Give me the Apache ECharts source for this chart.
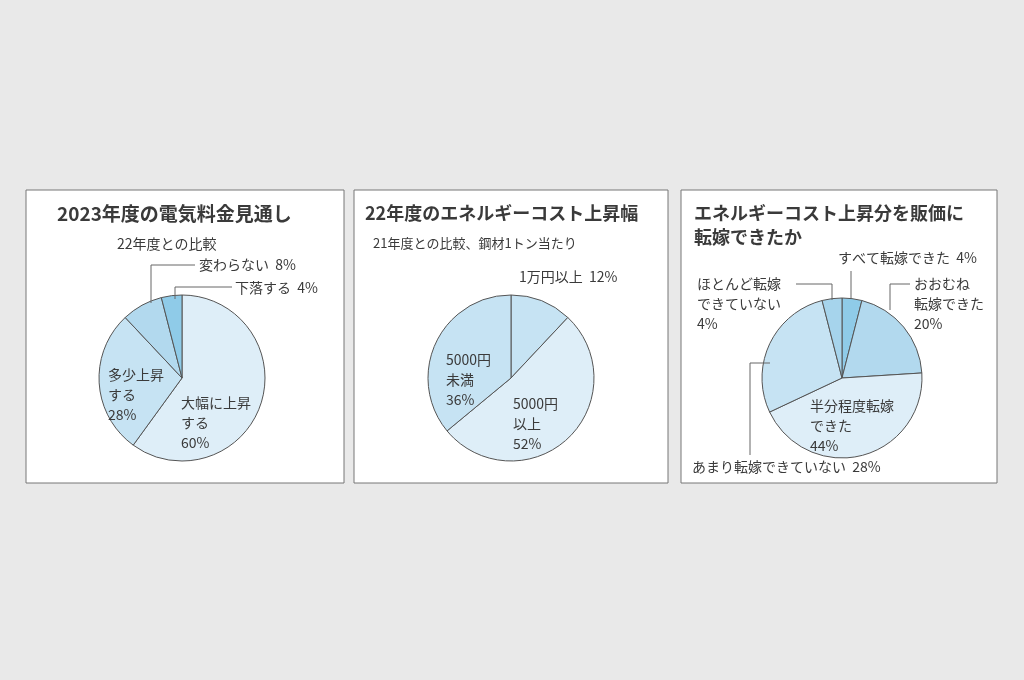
<!DOCTYPE html>
<html><head><meta charset="utf-8">
<script src="https://cdn.jsdelivr.net/npm/echarts@6/dist/echarts.min.js"></script>
<style>html,body{margin:0;background:#e9e9e9}#c{width:1024px;height:680px}</style>
</head><body><div id="c"></div>
<script>
// 2023年度の電気料金見通し
const cats1 = ['大幅に上昇する', '多少上昇する', '変わらない', '下落する'];
const vals1 = [60, 28, 8, 4];
// 22年度のエネルギーコスト上昇幅
const cats2 = ['1万円以上', '5000円以上', '5000円未満'];
const vals2 = [12, 52, 36];
// 転嫁できたか
const cats3 = ['すべて転嫁できた', 'おおむね転嫁できた', '半分程度転嫁できた', 'あまり転嫁できていない', 'ほとんど転嫁できていない'];
const vals3 = [4, 20, 44, 28, 4];

const cLight = '#deeef8', cMid = '#c6e3f3', cDeep = '#b2d9ee', cDark = '#8fcbe8';
const colors1 = [cLight, cMid, cDeep, cDark];
const colors2 = [cMid, cLight, cMid];
const colors3 = [cDark, cDeep, cLight, cMid, '#a6d4ec'];

const font = '"Noto Sans CJK JP", "Noto Sans", sans-serif';
const txtCol = '#3a3a3a';

function pie(data, cols, center, r) {
    return {
        type: 'pie', radius: r, center: center, startAngle: 90, clockwise: true,
        label: { show: false }, labelLine: { show: false }, silent: true,
        itemStyle: { borderColor: '#555', borderWidth: 1 },
        data: data.map((v, i) => ({ value: v, name: i, itemStyle: { color: cols[i] } }))
    };
}
function txt(x, y, s, size, bold) {
    return { type: 'text', left: x, top: y, z: 10, style: { text: s, font: (bold ? 'bold ' : '') + size + 'px ' + font, fill: txtCol, lineHeight: size + 6 } };
}
function line(pts) {
    return { type: 'polyline', z: 10, shape: { points: pts }, style: { stroke: '#666', lineWidth: 1, fill: null } };
}
function panel(x, w) {
    return { type: 'rect', z: 0, shape: { x: x, y: 190, width: w, height: 293 }, style: { fill: '#fff', stroke: '#777', lineWidth: 1 } };
}
const pct = v => v + '%';

const myChart = echarts.init(document.getElementById('c'));
myChart.setOption({
    animation: false,
    series: [
        pie(vals1, colors1, [182, 378], 83),
        pie(vals2, colors2, [511, 378], 83),
        pie(vals3, colors3, [842, 378], 80)
    ],
    graphic: [
        panel(26, 318), panel(354, 314), panel(681, 316),
        // panel 1
        txt(57, 201, '2023年度の電気料金見通し', 19, true),
        txt(117, 234, '22年度との比較', 14),
        txt(199, 255, cats1[2] + '  ' + pct(vals1[2]), 14),
        txt(235, 278, cats1[3] + '  ' + pct(vals1[3]), 14),
        line([[151, 303], [151, 265], [195, 265]]),
        line([[175, 299], [175, 287], [232, 287]]),
        txt(108, 365, '多少上昇\nする\n' + pct(vals1[1]), 14),
        txt(181, 393, '大幅に上昇\nする\n' + pct(vals1[0]), 14),
        // panel 2
        txt(365, 201, '22年度のエネルギーコスト上昇幅', 18, true),
        txt(373, 234, '21年度との比較、鋼材1トン当たり', 13),
        txt(519, 267, cats2[0] + '  ' + pct(vals2[0]), 14),
        txt(446, 350, '5000円\n未満\n' + pct(vals2[2]), 14),
        txt(513, 394, '5000円\n以上\n' + pct(vals2[1]), 14),
        // panel 3
        txt(694, 201, 'エネルギーコスト上昇分を販価に\n転嫁できたか', 18, true),
        txt(838, 248, cats3[0] + '  ' + pct(vals3[0]), 14),
        line([[851, 298], [851, 271]]),
        txt(914, 274, 'おおむね\n転嫁できた\n' + pct(vals3[1]), 14),
        line([[890, 310], [890, 284], [910, 284]]),
        txt(697, 274, 'ほとんど転嫁\nできていない\n' + pct(vals3[4]), 14),
        line([[832, 300], [832, 284], [796, 284]]),
        txt(810, 396, '半分程度転嫁\nできた\n' + pct(vals3[2]), 14),
        txt(692, 457, cats3[3] + '  ' + pct(vals3[3]), 14),
        line([[770, 363], [750, 363], [750, 455]])
    ]
});
</script></body></html>
